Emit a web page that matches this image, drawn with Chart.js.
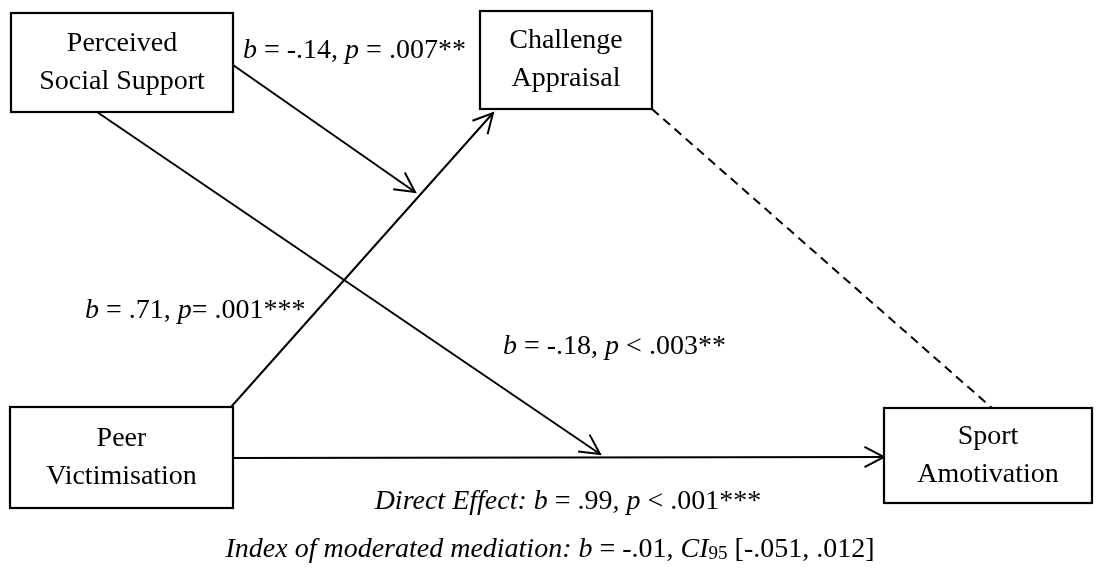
<!DOCTYPE html>
<html>
<head>
<meta charset="utf-8">
<script src="https://cdn.jsdelivr.net/npm/chart.js@4.4.1/dist/chart.umd.min.js"></script>
<style>
  html, body { margin: 0; padding: 0; background: #fff; }
  #wrap { width: 1101px; height: 570px; }
</style>
</head>
<body>
<div id="wrap"><canvas id="pathChart" width="1101" height="570"></canvas></div>
<script>
// Diagram in its own units (0..1101 across, 0..570 down)
const boxNames = ['Perceived|Social Support', 'Challenge|Appraisal', 'Peer|Victimisation', 'Sport|Amotivation'];
const boxLeft   = [11, 480, 10, 884];
const boxTop    = [13, 11, 407, 408];
const boxRight  = [233, 652, 233, 1092];
const boxBottom = [112, 109, 508, 503];

// paths: start point, end point, dashed?, arrowhead?
const pathFrom = [[233, 65], [231, 407], [97, 112], [233, 458], [652, 109]];
const pathTo   = [[415, 192], [493, 113], [600, 454], [884, 457], [992, 408]];
const pathDashed = [false, false, false, false, true];
const pathArrow  = [true, true, true, true, false];

// labels: segments "text" with "_" prefix = italic, "~" prefix = subscript
const labelText = [
  ['_b', ' = -.14, ', '_p', ' = .007**'],
  ['_b', ' = .71, ', '_p', '= .001***'],
  ['_b', ' = -.18, ', '_p', ' < .003**'],
  ['_Direct Effect: b', ' = .99, ', '_p', ' < .001***'],
  ['_Index of moderated mediation: b', ' = -.01, ', '_CI', '~95', ' [-.051, .012]']
];
const labelX = [243, 85, 503, 568, 550];
const labelY = [58, 318, 354, 509, 557];
const labelAlign = ['left', 'left', 'left', 'center', 'center'];

const FONT = '"Liberation Serif", "Times New Roman", serif';

const datasets = pathFrom.map((p, i) => ({
  data: [{ x: p[0], y: p[1] }, { x: pathTo[i][0], y: pathTo[i][1] }],
  showLine: true,
  borderColor: '#000',
  borderWidth: 2,
  borderDash: pathDashed[i] ? [9, 6] : [],
  pointRadius: 0,
  fill: false
}));

function segFont(s) {
  if (s[0] === '_') return 'italic 28px ' + FONT;
  if (s[0] === '~') return '19px ' + FONT;
  return '28px ' + FONT;
}
function segText(s) {
  return (s[0] === '_' || s[0] === '~') ? s.slice(1) : s;
}

const diagramPlugin = {
  id: 'diagram',
  afterDatasetsDraw(chart) {
    const ctx = chart.ctx;
    const xs = chart.scales.x, ys = chart.scales.y;
    ctx.save();
    ctx.fillStyle = '#000';
    ctx.strokeStyle = '#000';

    // arrowheads
    pathFrom.forEach((p, i) => {
      if (!pathArrow[i]) return;
      const x0 = xs.getPixelForValue(p[0]), y0 = ys.getPixelForValue(p[1]);
      const x1 = xs.getPixelForValue(pathTo[i][0]), y1 = ys.getPixelForValue(pathTo[i][1]);
      const a = Math.atan2(y1 - y0, x1 - x0);
      const len = 22, spread = 0.48;
      ctx.lineWidth = 2;
      ctx.beginPath();
      ctx.moveTo(x1 - len * Math.cos(a - spread), y1 - len * Math.sin(a - spread));
      ctx.lineTo(x1, y1);
      ctx.lineTo(x1 - len * Math.cos(a + spread), y1 - len * Math.sin(a + spread));
      ctx.stroke();
    });

    // boxes
    boxNames.forEach((name, i) => {
      const l = xs.getPixelForValue(boxLeft[i]), r = xs.getPixelForValue(boxRight[i]);
      const t = ys.getPixelForValue(boxTop[i]), b = ys.getPixelForValue(boxBottom[i]);
      ctx.fillStyle = '#fff';
      ctx.fillRect(l, t, r - l, b - t);
      ctx.lineWidth = 2.2;
      ctx.strokeRect(l, t, r - l, b - t);
      ctx.fillStyle = '#000';
      ctx.font = '28px ' + FONT;
      ctx.textAlign = 'center';
      ctx.textBaseline = 'alphabetic';
      const cx = (l + r) / 2, cy = (t + b) / 2;
      const lines = name.split('|');
      ctx.fillText(lines[0], cx, cy - 12);
      ctx.fillText(lines[1], cx, cy + 26);
    });

    // coefficient labels
    ctx.textAlign = 'left';
    labelText.forEach((segs, i) => {
      let total = 0;
      segs.forEach(s => { ctx.font = segFont(s); total += ctx.measureText(segText(s)).width; });
      let x = xs.getPixelForValue(labelX[i]);
      const y = ys.getPixelForValue(labelY[i]);
      if (labelAlign[i] === 'center') x -= total / 2;
      segs.forEach(s => {
        ctx.font = segFont(s);
        ctx.fillText(segText(s), x, s[0] === '~' ? y + 2 : y);
        x += ctx.measureText(segText(s)).width;
      });
    });
    ctx.restore();
  }
};

new Chart(document.getElementById('pathChart'), {
  type: 'scatter',
  data: { datasets: datasets },
  options: {
    responsive: false,
    animation: false,
    layout: { padding: 0 },
    plugins: { legend: { display: false }, tooltip: { enabled: false } },
    scales: {
      x: { type: 'linear', min: 0, max: 1101, display: false },
      y: { type: 'linear', min: 0, max: 570, reverse: true, display: false }
    }
  },
  plugins: [diagramPlugin]
});
</script>
</body>
</html>
